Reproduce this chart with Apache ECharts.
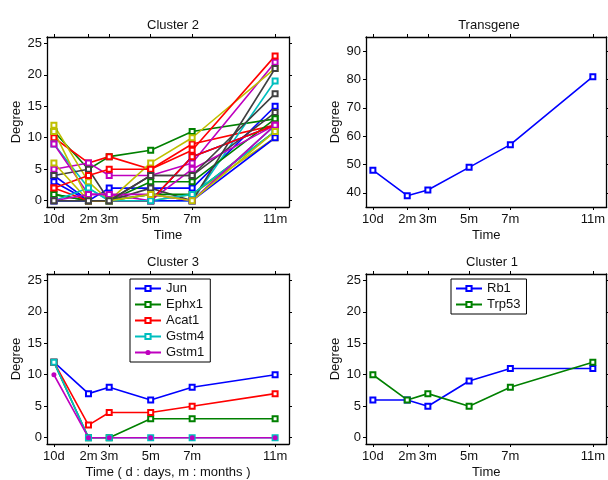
<!DOCTYPE html>
<html>
<head>
<meta charset="utf-8">
<script src="https://cdn.jsdelivr.net/npm/echarts@6/dist/echarts.min.js"></script>
<style>
  html, body { margin: 0; padding: 0; background: #fff; }
  #chart { width: 608px; height: 480px; }
</style>
</head>
<body>
<div id="chart"></div>
<script>
// time points in months (10 days ~ 1/3 month)
const timeX = [1 / 3, 2, 3, 5, 7, 11];
const timeLabels = ['10d', '2m', '3m', '5m', '7m', '11m'];
const degreeTicks = [0, 5, 10, 15, 20, 25];
const transTicks = [40, 50, 60, 70, 80, 90];

// Cluster 2 (many genes, no legend)
const cluster2 = [
  [4, 0, 2, 2, 2, 15],
  [11, 5, 7, 8, 11, 13],
  [10, 6, 7, 5, 9, 12],
  [9, 2, 0, 0, 0, 19],
  [5, 6, 4, 4, 6, 22],
  [12, 3, 0, 6, 10, 21],
  [4, 5, 0, 4, 4, 14],
  [3, 0, 0, 0, 7, 12],
  [1, 0, 0, 3, 3, 13],
  [2, 4, 5, 5, 8, 23],
  [0, 0, 0, 1, 0, 12],
  [9, 1, 1, 0, 5, 12],
  [6, 0, 0, 0, 1, 10],
  [0, 0, 0, 2, 0, 21],
  [0, 0, 0, 0, 0, 10],
  [1, 0, 0, 1, 1, 11],
  [2, 0, 0, 0, 7, 12],
  [0, 2, 0, 0, 1, 11],
  [0, 1, 1, 1, 0, 12],
  [11, 0, 0, 1, 0, 11],
  [0, 0, 0, 4, 4, 17]
];

// Transgene
const transgene = [48, 39, 41, 49, 57, 81];

// Cluster 3
const c3Names = ['Jun', 'Ephx1', 'Acat1', 'Gstm4', 'Gstm1'];
const jun = [12, 7, 8, 6, 8, 10];
const ephx1 = [12, 0, 0, 3, 3, 3];
const acat1 = [12, 2, 4, 4, 5, 7];
const gstm4 = [12, 0, 0, 0, 0, 0];
const gstm1 = [10, 0, 0, 0, 0, 0];

// Cluster 1
const c1Names = ['Rb1', 'Trp53'];
const rb1 = [6, 6, 5, 9, 11, 11];
const trp53 = [10, 6, 7, 5, 8, 12];

// matlab-ish default color order
const colors = ['#0000ff', '#008000', '#ff0000', '#00bfbf', '#bf00bf', '#bfbf00', '#404040'];

const FONT = 'Liberation Sans, Arial, sans-serif';

function pairs(vals) {
  return vals.map((v, i) => [timeX[i], v]);
}

function timeLabel(v) {
  const i = timeX.findIndex(t => Math.abs(t - v) < 0.01);
  return i >= 0 ? timeLabels[i] : '';
}

// grid boxes: [left, top, width, height]
const boxes = [
  [47, 37, 242, 170],
  [366, 37, 242, 170],
  [47, 274, 242, 172],
  [366, 274, 242, 172]
];

const grids = [], xAxes = [], yAxes = [], series = [];

boxes.forEach((b, g) => {
  grids.push({ left: b[0], top: b[1], width: b[2], height: b[3], containLabel: false });
  const lineSt = { show: true, onZero: false, lineStyle: { color: '#000', width: 1.3 } };
  const xName = g === 2 ? 'Time ( d : days, m : months )' : 'Time';
  xAxes.push({
    type: 'value', gridIndex: g, min: 0, max: 11.67, position: 'bottom',
    name: xName, nameLocation: 'middle', nameGap: 22,
    nameTextStyle: { fontSize: 13, color: '#111', fontFamily: FONT },
    axisLine: lineSt,
    axisTick: { show: true, length: 3, customValues: timeX, lineStyle: { color: '#000' } },
    axisLabel: { customValues: timeX, formatter: timeLabel, margin: 6, fontSize: 13, color: '#111', fontFamily: FONT },
    splitLine: { show: false }
  });
  xAxes.push({
    type: 'value', gridIndex: g, min: 0, max: 11.67, position: 'top',
    axisLine: lineSt,
    axisTick: { show: true, length: 3, customValues: timeX, lineStyle: { color: '#000' } },
    axisLabel: { show: false },
    splitLine: { show: false }
  });
  const yr = g === 1 ? [35, 95, transTicks] : [-1, 26, degreeTicks];
  yAxes.push({
    type: 'value', gridIndex: g, min: yr[0], max: yr[1], position: 'left',
    name: 'Degree', nameLocation: 'middle', nameGap: 24, nameRotate: 90,
    nameTextStyle: { fontSize: 13, color: '#111', fontFamily: FONT },
    axisLine: lineSt,
    axisTick: { show: true, length: 3, customValues: yr[2], lineStyle: { color: '#000' } },
    axisLabel: { customValues: yr[2], margin: 5, fontSize: 13, color: '#111', fontFamily: FONT },
    splitLine: { show: false }
  });
  yAxes.push({
    type: 'value', gridIndex: g, min: yr[0], max: yr[1], position: 'right',
    axisLine: lineSt,
    axisTick: { show: true, length: 3, customValues: yr[2], lineStyle: { color: '#000' } },
    axisLabel: { show: false },
    splitLine: { show: false }
  });
});

function addLine(name, vals, color, g, sym) {
  series.push({
    name: name, type: 'line', data: pairs(vals),
    xAxisIndex: g * 2, yAxisIndex: g * 2,
    symbol: sym || 'emptyRect', symbolSize: 5,
    lineStyle: { color: color, width: 1.6 },
    itemStyle: { color: color, borderWidth: 1.3 },
    animation: false, z: 3
  });
}

cluster2.forEach((vals, i) => addLine('c2_' + i, vals, colors[i % colors.length], 0));
addLine('Transgene', transgene, colors[0], 1);
[jun, ephx1, acat1, gstm4, gstm1].forEach((vals, i) => {
  addLine(c3Names[i], vals, colors[i], 2, i === 4 ? 'circle' : 'emptyRect');
});
[rb1, trp53].forEach((vals, i) => addLine(c1Names[i], vals, colors[i], 3));

const titleStyle = { fontSize: 13, fontWeight: 'normal', color: '#111', fontFamily: FONT };
const legendBase = {
  orient: 'vertical', backgroundColor: '#fff', borderColor: '#000', borderWidth: 1,
  padding: [3, 6, 3, 4], itemWidth: 26, itemHeight: 6.5, itemGap: 3,
  textStyle: { fontSize: 13, color: '#111', fontFamily: FONT }
};

const option = {
  backgroundColor: '#fff',
  animation: false,
  title: [
    { text: 'Cluster 2', left: 168, top: 14, textAlign: 'center', textStyle: titleStyle },
    { text: 'Transgene', left: 484, top: 14, textAlign: 'center', textStyle: titleStyle },
    { text: 'Cluster 3', left: 168, top: 251, textAlign: 'center', textStyle: titleStyle },
    { text: 'Cluster 1', left: 487, top: 251, textAlign: 'center', textStyle: titleStyle }
  ],
  legend: [
    Object.assign({}, legendBase, { data: c3Names, left: 130, top: 279 }),
    Object.assign({}, legendBase, { data: c1Names, left: 451, top: 279 })
  ],
  grid: grids,
  xAxis: xAxes,
  yAxis: yAxes,
  series: series
};

const chart = echarts.init(document.getElementById('chart'), null, { renderer: 'canvas' });
chart.setOption(option);
</script>
</body>
</html>
